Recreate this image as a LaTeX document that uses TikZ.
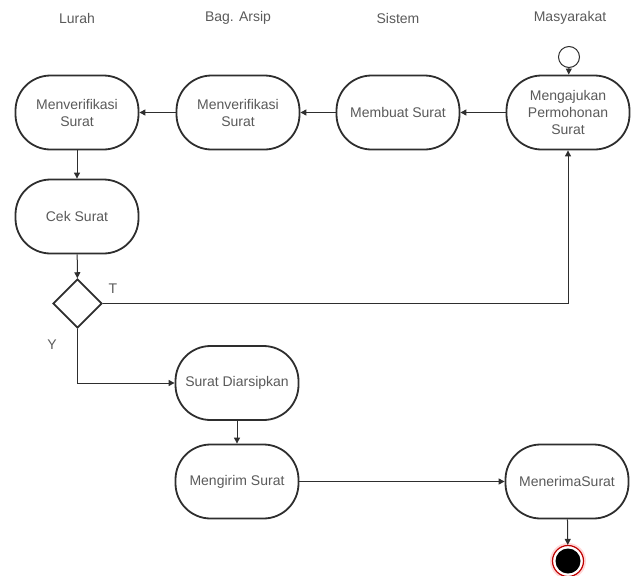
\documentclass[tikz,border=0pt]{standalone}
\usepackage{fontspec}
\setmainfont{Liberation Sans}
\usetikzlibrary{arrows.meta,shapes.geometric}
\definecolor{txt}{HTML}{5A5A5A}
\definecolor{edge}{HTML}{2E2E2E}
\begin{document}
\begin{tikzpicture}[x=1pt,y=-1pt,
  act/.style={draw=edge,line width=1.8pt,rounded corners=35pt,fill=white,
    minimum width=123pt,minimum height=74pt,inner sep=2pt,align=center,
    text=txt,font=\fontsize{14pt}{17pt}\selectfont},
  lane/.style={text=txt,font=\fontsize{14pt}{17pt}\selectfont},
  lbl/.style={text=txt,font=\fontsize{14pt}{17pt}\selectfont},
  flow/.style={draw=edge,line width=1pt,-{Triangle[length=6pt,width=6pt]}},
  choice/.style={diamond,draw=edge,line width=1.8pt,fill=white,
    minimum width=49pt,minimum height=49pt,inner sep=0pt}]
\useasboundingbox (0,0) rectangle (635,576);

% lane headings
\node[lane] (hLurah) at (77,18) {Lurah};
\node[lane] (hArsip) at (238,18) {Bag. Arsip};
\node[lane] (hSistem) at (398,18) {Sistem};
\node[lane] (hMasy) at (570,18) {Masyarakat};

% start state
\node[circle,draw=edge,line width=1pt,fill=white,minimum size=21pt,inner sep=0pt] (start) at (569,57) {};

% activities
\node[act] (ajukan) at (568,112.5) {Mengajukan\\Permohonan\\Surat};
\node[act] (buat) at (398,112.5) {Membuat Surat};
\node[act] (verA) at (238,112.5) {Menverifikasi\\Surat};
\node[act] (verL) at (77,112.5) {Menverifikasi\\Surat};
\node[act] (cek) at (77,216.5) {Cek Surat};
\node[choice] (dec) at (77.5,303.5) {};
\node[act] (arsip) at (237,383) {Surat Diarsipkan};
\node[act] (kirim) at (237,481.5) {Mengirim Surat};
\node[act] (terima) at (567,481.5) {MenerimaSurat};

% end state
\node[circle,fill=red!30,minimum size=36pt,inner sep=0pt,opacity=0.5] (endGlow) at (568,561) {};
\node[circle,draw=red!75!black,line width=1.2pt,fill=white,minimum size=31pt,inner sep=0pt] (endRing) at (568,561) {};
\node[circle,fill=black,minimum size=25pt,inner sep=0pt] (endDot) at (568,561) {};

% control flow
\draw[flow] (start) -- (ajukan);
\draw[flow] (ajukan) -- (buat);
\draw[flow] (buat) -- (verA);
\draw[flow] (verA) -- (verL);
\draw[flow] (verL) -- (cek);
\draw[flow] (cek) -- (dec);
\draw[flow] (dec.east) -| (ajukan.south);
\draw[flow] (dec.south) |- (arsip.west);
\draw[flow] (arsip) -- (kirim);
\draw[flow] (kirim) -- (terima);
\draw[flow] (terima) -- (endRing);

% branch labels
\node[lbl] (lT) at (113,289) {T};
\node[lbl] (lY) at (52,345) {Y};
\end{tikzpicture}
\end{document}
